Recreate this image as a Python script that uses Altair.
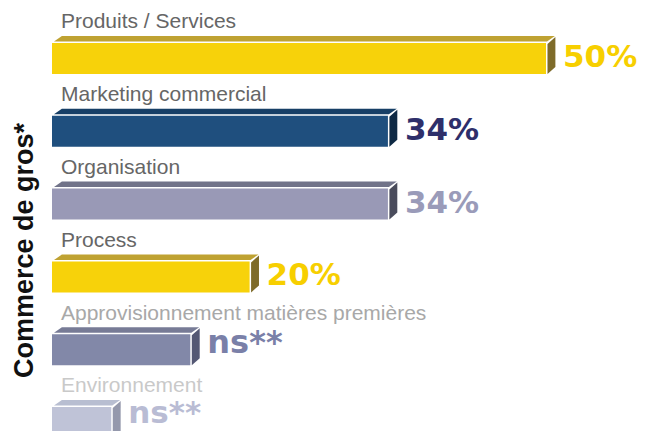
import altair as alt
import pandas as pd

# ---- data ----
categories = [
    "Produits / Services",
    "Marketing commercial",
    "Organisation",
    "Process",
    "Approvisionnement matières premières",
    "Environnement",
]
values = [50, 34, 34, 20, 14, 6]
value_labels = ["50%", "34%", "34%", "20%", "ns**", "ns**"]

front_colors = ["#F7D20A", "#1F4F7E", "#9999B6", "#F7D20A", "#8288A8", "#A9AFCA"]
top_colors = ["#BFA232", "#173F66", "#717389", "#BFA232", "#777B96", "#A0A8C2"]
side_colors = ["#7E6B2A", "#0E2944", "#4A4C5C", "#7E6B2A", "#545874", "#707590"]
value_colors = ["#F7CF00", "#2E2F6A", "#9A9BB9", "#F7CF00", "#7A80A8", "#A2A6C6"]
label_colors = ["#666666", "#666666", "#666666", "#666666", "#A8A8A8", "#B8B8B8"]
row_opacity = [1, 1, 1, 1, 1, 0.75]
value_sizes = [31, 31, 31, 31, 32, 31]
value_baseline_px = [24, 24, 24, 24, 19, 16]

# ---- layout constants (style) ----
VIEW_W, VIEW_H = 585, 423
PX_PER_PCT = 9.88
ROW_PX = 72.8
FIRST_TOP_PX = 35.0
BAR_PX = 31.0
DEPTH_Y_PX = 7.0
DEPTH_X = 0.8
X_MAX = VIEW_W / PX_PER_PCT
Y_MAX = VIEW_H / ROW_PX


def u(px):
    return px / ROW_PX


front, top, side, labels = [], [], [], []
for k, (cat, v) in enumerate(zip(categories, values)):
    ft = k + u(FIRST_TOP_PX)
    fb = ft + u(BAR_PX)
    op = row_opacity[k]
    front.append(dict(row=k, x=0, x2=v, y=ft, y2=fb, c=front_colors[k], op=op))
    top.append(dict(row=k, y=ft - u(1.5), x=0.2, x2=v + 0.1, c=top_colors[k], op=op))
    top.append(dict(row=k, y=ft - u(DEPTH_Y_PX), x=0.2 + DEPTH_X, x2=v + 0.1 + DEPTH_X,
                    c=top_colors[k], op=op))
    side.append(dict(row=k, x=v + 0.15, y=ft + u(1), y2=fb, c=side_colors[k], op=op))
    side.append(dict(row=k, x=v + 0.15 + DEPTH_X, y=ft - u(DEPTH_Y_PX - 1), y2=fb - u(DEPTH_Y_PX),
                     c=side_colors[k], op=op))
    labels.append(dict(row=k, cat=cat, lx=0, ly=ft - u(14.7), lc=label_colors[k],
                       vx=v, vy=ft + u(value_baseline_px[k]), vl=value_labels[k],
                       vc=value_colors[k], vs=value_sizes[k], op=op))

df_front = pd.DataFrame(front)
df_top = pd.DataFrame(top)
df_side = pd.DataFrame(side)
df_lab = pd.DataFrame(labels)

xs = alt.Scale(domain=[0, X_MAX], nice=False, zero=False)
ys = alt.Scale(domain=[0, Y_MAX], nice=False, zero=False, reverse=True)
y_axis = alt.Axis(
    title="Commerce de gros*", labels=False, ticks=False, domain=False, grid=False,
    titleX=-28, titleY=242, titleAngle=270, titleAlign="center", titleBaseline="middle",
    titleFont="Liberation Sans", titleFontSize=27, titleFontWeight="bold", titleColor="#111111",
)

front_layer = alt.Chart(df_front).mark_rect().encode(
    x=alt.X("x:Q", scale=xs, axis=None),
    x2="x2:Q",
    y=alt.Y("y:Q", scale=ys, axis=y_axis),
    y2="y2:Q",
    color=alt.Color("c:N", scale=None),
    opacity=alt.Opacity("op:Q", scale=None),
)

top_layer = alt.Chart(df_top).mark_area(orient="horizontal").encode(
    x=alt.X("x:Q", scale=xs, axis=None),
    x2="x2:Q",
    y=alt.Y("y:Q", scale=ys, axis=y_axis),
    detail="row:N",
    color=alt.Color("c:N", scale=None),
    opacity=alt.Opacity("op:Q", scale=None),
)

side_layer = alt.Chart(df_side).mark_area(orient="vertical").encode(
    x=alt.X("x:Q", scale=xs, axis=None),
    y=alt.Y("y:Q", scale=ys, axis=y_axis),
    y2="y2:Q",
    detail="row:N",
    color=alt.Color("c:N", scale=None),
    opacity=alt.Opacity("op:Q", scale=None),
)

cat_text = alt.Chart(df_lab).mark_text(
    align="left", baseline="alphabetic", font="Liberation Sans", fontSize=21, dx=9
).encode(
    x=alt.X("lx:Q", scale=xs, axis=None),
    y=alt.Y("ly:Q", scale=ys, axis=y_axis),
    text="cat:N",
    color=alt.Color("lc:N", scale=None),
    opacity=alt.Opacity("op:Q", scale=None),
)

val_text = alt.Chart(df_lab).mark_text(
    align="left", baseline="alphabetic", font="DejaVu Sans", fontWeight="bold", dx=17
).encode(
    x=alt.X("vx:Q", scale=xs, axis=None),
    y=alt.Y("vy:Q", scale=ys, axis=y_axis),
    text="vl:N",
    color=alt.Color("vc:N", scale=None),
    size=alt.Size("vs:Q", scale=None),
    opacity=alt.Opacity("op:Q", scale=None),
)

chart = alt.layer(front_layer, top_layer, side_layer, cat_text, val_text).properties(
    width=VIEW_W,
    height=VIEW_H,
    padding={"left": 44, "top": 0, "right": 0, "bottom": 0},
    autosize=alt.AutoSizeParams(type="none"),
    background="white",
).configure_view(stroke=None)

chart.save("out.html", embed_options={"renderer": "svg", "actions": False})
